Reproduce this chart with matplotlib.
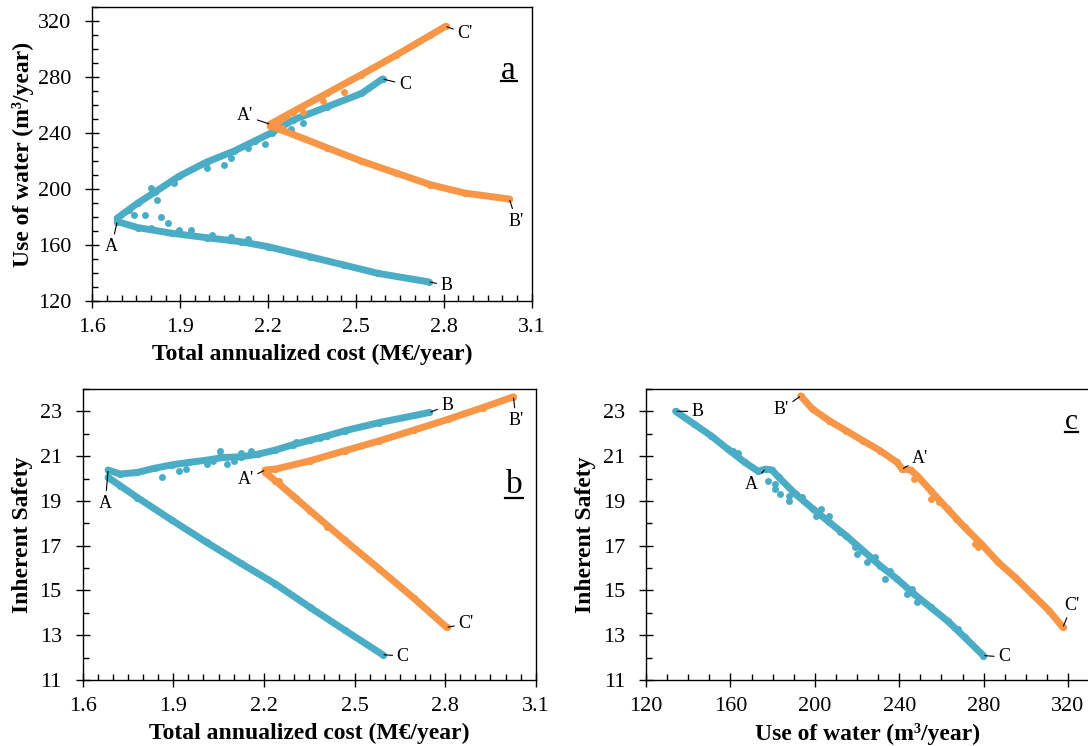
import matplotlib
matplotlib.use("Agg")
import matplotlib.pyplot as plt
from matplotlib.ticker import MultipleLocator

plt.rcParams["font.family"] = ["Liberation Serif", "DejaVu Serif"]

BLUE = "#4bacc6"
ORANGE = "#f79646"

# ---- panel a: total annualized cost vs use of water ----
a_blue_up_cost = [1.685, 1.755, 1.814, 1.896, 1.990, 2.084, 2.154, 2.213, 2.284, 2.401, 2.519, 2.591]
a_blue_up_water = [179.2, 190.0, 197.9, 209.2, 219.3, 227.2, 234.4, 240.4, 249.3, 258.8, 268.4, 278.8]
a_blue_low_cost = [1.685, 1.755, 1.873, 1.990, 2.107, 2.201, 2.342, 2.460, 2.577, 2.748]
a_blue_low_water = [176.8, 172.5, 168.4, 165.3, 162.4, 158.8, 151.7, 145.7, 139.7, 133.7]
a_blue_pts_cost = [1.726, 1.743, 1.779, 1.820, 1.802, 1.835, 1.858, 1.878, 1.990, 2.049, 2.072, 2.131,
                   2.190, 2.278, 2.319, 1.896, 1.937, 2.008, 2.072, 2.131, 1.802]
a_blue_pts_water = [185.2, 181.6, 181.6, 192.4, 200.8, 180.4, 175.6, 204.4, 215.2, 217.6, 222.4, 229.6,
                    232.0, 242.8, 247.1, 170.8, 170.8, 167.2, 166.0, 164.4, 172.0]
a_or_up_cost = [2.207, 2.284, 2.401, 2.519, 2.636, 2.754, 2.806]
a_or_up_water = [246.4, 255.3, 268.5, 281.9, 295.6, 310.0, 316.4]
a_or_low_cost = [2.207, 2.284, 2.401, 2.519, 2.636, 2.754, 2.871, 3.024]
a_or_low_water = [245.2, 239.2, 229.6, 220.0, 211.6, 203.2, 197.2, 192.9]
a_or_pts_cost = [2.248, 2.319, 2.460, 2.389, 2.260, 2.225, 2.248, 2.237]
a_or_pts_water = [251.2, 254.8, 269.2, 263.2, 252.4, 245.2, 244.0, 248.8]

# ---- panel b: total annualized cost vs inherent safety ----
b_blue_up_cost = [1.684, 1.724, 1.781, 1.838, 1.895, 1.952, 2.010, 2.067, 2.124, 2.181, 2.238, 2.296,
                  2.353, 2.410, 2.467, 2.582, 2.748]
b_blue_up_safety = [20.38, 20.20, 20.27, 20.46, 20.61, 20.72, 20.82, 20.94, 20.97, 21.09, 21.27, 21.51,
                    21.71, 21.91, 22.13, 22.50, 22.95]
b_blue_low_cost = [1.684, 1.724, 1.781, 1.895, 2.010, 2.124, 2.238, 2.353, 2.467, 2.593]
b_blue_low_safety = [20.05, 19.68, 19.15, 18.14, 17.15, 16.21, 15.29, 14.24, 13.23, 12.13]
b_blue_pts_cost = [1.861, 1.918, 1.941, 2.010, 2.032, 2.055, 2.078, 2.055, 2.101, 2.124, 2.158, 2.307, 2.387]
b_blue_pts_safety = [20.05, 20.35, 20.42, 20.64, 20.79, 21.01, 20.64, 21.21, 20.79, 21.16, 21.24, 21.61, 21.83]
b_or_up_cost = [2.204, 2.238, 2.353, 2.467, 2.582, 2.696, 2.811, 2.925, 3.026]
b_or_up_safety = [20.38, 20.42, 20.79, 21.24, 21.68, 22.16, 22.65, 23.17, 23.65]
b_or_low_cost = [2.204, 2.238, 2.296, 2.353, 2.467, 2.582, 2.696, 2.805]
b_or_low_safety = [20.27, 19.90, 19.23, 18.56, 17.25, 15.96, 14.66, 13.35]
b_or_pts_cost = [2.250, 2.307, 2.410]
b_or_pts_safety = [19.90, 19.15, 17.82]

# ---- panel c: use of water vs inherent safety ----
c_blue_water = [134.0, 142.8, 150.8, 158.8, 166.8, 173.2, 176.5, 179.7, 182.9, 190.9, 198.9, 206.9,
                214.9, 223.0, 231.0, 239.0, 247.0, 255.0, 263.1, 271.1, 279.9]
c_blue_safety = [23.00, 22.43, 21.91, 21.31, 20.72, 20.32, 20.42, 20.38, 20.05, 19.30, 18.66, 18.04,
                 17.44, 16.77, 16.10, 15.51, 14.84, 14.24, 13.62, 12.90, 12.09]
c_blue_pts_water = [181.3, 183.7, 187.7, 187.7, 194.1, 200.5, 202.9, 206.9, 211.7, 219.0, 219.8, 224.6,
                    228.6, 233.4, 235.8, 243.8, 246.2, 248.6, 267.9, 178.0, 181.3, 161.0, 163.5]
c_blue_pts_safety = [19.53, 19.30, 19.23, 18.98, 19.16, 18.34, 18.63, 18.34, 17.59, 16.92, 16.62, 16.25,
                     16.48, 15.51, 15.88, 14.84, 15.06, 14.47, 13.28, 19.90, 19.75, 21.25, 21.15]
c_or_water = [193.3, 198.9, 206.9, 214.9, 223.0, 231.0, 239.0, 241.4, 245.4, 248.6, 255.0, 263.0,
              271.0, 279.0, 287.0, 295.0, 303.0, 311.0, 317.6]
c_or_safety = [23.69, 23.10, 22.58, 22.13, 21.68, 21.24, 20.72, 20.42, 20.38, 20.12, 19.45, 18.63,
               17.82, 17.07, 16.25, 15.58, 14.84, 14.10, 13.35]
c_or_pts_water = [247.0, 255.0, 259.0, 267.0, 275.9, 277.5]
c_or_pts_safety = [19.96, 19.08, 18.93, 18.19, 17.07, 16.92]

cost_ticks = [1.6, 1.9, 2.2, 2.5, 2.8, 3.1]
water_ticks = [120, 160, 200, 240, 280, 320]
safety_ticks = [11, 13, 15, 17, 19, 21, 23]


def front(ax, x, y, color):
    ax.plot(x, y, color=color, lw=5, marker="o", ms=5.2, mec="none", solid_capstyle="round",
            solid_joinstyle="round", zorder=3)


def dots(ax, x, y, color):
    ax.plot(x, y, "o", color=color, ms=5, mec="none", zorder=3)


def label(ax, text, xy, offset):
    ax.annotate(text, xy=xy, xytext=offset, textcoords="offset points", ha="center", va="center",
                fontsize=13, zorder=5,
                arrowprops=dict(arrowstyle="-", color="black", lw=0.8, shrinkA=1, shrinkB=1))


def panel_letter(ax, text, x, y, x0, x1, yline, size):
    ax.text(x, y, text, transform=ax.transAxes, ha="center", va="center", fontsize=size)
    ax.plot([x0, x1], [yline, yline], transform=ax.transAxes, color="black", lw=1.6, clip_on=False)


def style(ax, xlim, xticks, xminor, ylim, yticks, yminor):
    ax.set_xlim(*xlim)
    ax.set_ylim(*ylim)
    ax.set_xticks(xticks)
    ax.set_yticks(yticks)
    ax.xaxis.set_minor_locator(MultipleLocator(xminor))
    ax.yaxis.set_minor_locator(MultipleLocator(yminor))
    ax.tick_params(which="major", direction="inout", length=10, width=1, labelsize=16, pad=7)
    ax.tick_params(axis="y", which="major", pad=10)
    ax.tick_params(which="minor", direction="in", length=4.5, width=1)
    for s in ax.spines.values():
        s.set_linewidth(1.0)
        s.set_color("black")


fig = plt.figure(figsize=(10.88, 7.46), dpi=100)

# panel a
ax1 = fig.add_axes([0.0848, 0.5965, 0.4039, 0.3937])
front(ax1, a_blue_up_cost, a_blue_up_water, BLUE)
front(ax1, a_blue_low_cost, a_blue_low_water, BLUE)
dots(ax1, a_blue_pts_cost, a_blue_pts_water, BLUE)
front(ax1, a_or_up_cost, a_or_up_water, ORANGE)
front(ax1, a_or_low_cost, a_or_low_water, ORANGE)
dots(ax1, a_or_pts_cost, a_or_pts_water, ORANGE)
style(ax1, (1.6, 3.1), cost_ticks, 0.05, (120, 330), water_ticks, 10)
ax1.set_xlabel("Total annualized cost (M€/year)", fontsize=17, fontweight="bold", labelpad=5)
ax1.set_ylabel("Use of water (m³/year)", fontsize=17, fontweight="bold", labelpad=3)
label(ax1, "C'", (a_or_up_cost[-1], a_or_up_water[-1]), (14, -5))
label(ax1, "C", (a_blue_up_cost[-1], a_blue_up_water[-1]), (16, -4))
label(ax1, "A'", (a_or_up_cost[0], a_or_up_water[0]), (-18, 6))
label(ax1, "B'", (a_or_low_cost[-1], a_or_low_water[-1]), (5, -16))
label(ax1, "A", (a_blue_low_cost[0], a_blue_low_water[0]), (-4, -18))
label(ax1, "B", (a_blue_low_cost[-1], a_blue_low_water[-1]), (13, -2.5))
panel_letter(ax1, "a", 0.9475, 0.785, 0.9295, 0.967, 0.75, 24)

# panel b
ax2 = fig.add_axes([0.0760, 0.0885, 0.4164, 0.3901])
front(ax2, b_blue_up_cost, b_blue_up_safety, BLUE)
front(ax2, b_blue_low_cost, b_blue_low_safety, BLUE)
dots(ax2, b_blue_pts_cost, b_blue_pts_safety, BLUE)
front(ax2, b_or_up_cost, b_or_up_safety, ORANGE)
front(ax2, b_or_low_cost, b_or_low_safety, ORANGE)
dots(ax2, b_or_pts_cost, b_or_pts_safety, ORANGE)
style(ax2, (1.6, 3.1), cost_ticks, 0.05, (11, 24), safety_ticks, 1)
ax2.set_xlabel("Total annualized cost (M€/year)", fontsize=17, fontweight="bold", labelpad=5)
ax2.set_ylabel("Inherent Safety", fontsize=17, fontweight="bold", labelpad=5)
label(ax2, "B", (b_blue_up_cost[-1], b_blue_up_safety[-1]), (13, 5))
label(ax2, "B'", (b_or_up_cost[-1], b_or_up_safety[-1]), (2, -17))
label(ax2, "A", (b_blue_up_cost[0], b_blue_up_safety[0]), (-2, -24))
label(ax2, "A'", (b_or_up_cost[0], b_or_up_safety[0]), (-14, -7))
label(ax2, "C'", (b_or_low_cost[-1], b_or_low_safety[-1]), (14, 2.5))
label(ax2, "C", (b_blue_low_cost[-1], b_blue_low_safety[-1]), (14.5, -1))
panel_letter(ax2, "b", 0.952, 0.672, 0.933, 0.971, 0.625, 24)

# panel c
ax3 = fig.add_axes([0.5938, 0.0885, 0.4072, 0.3901])
front(ax3, c_blue_water, c_blue_safety, BLUE)
dots(ax3, c_blue_pts_water, c_blue_pts_safety, BLUE)
front(ax3, c_or_water, c_or_safety, ORANGE)
dots(ax3, c_or_pts_water, c_or_pts_safety, ORANGE)
style(ax3, (120, 330), water_ticks, 10, (11, 24), safety_ticks, 1)
ax3.set_xlabel("Use of water (m³/year)", fontsize=17, fontweight="bold", labelpad=5)
ax3.set_ylabel("Inherent Safety", fontsize=17, fontweight="bold", labelpad=5)
label(ax3, "B", (c_blue_water[0], c_blue_safety[0]), (16, 0))
label(ax3, "B'", (c_or_water[0], c_or_safety[0]), (-14, -10))
label(ax3, "A'", (c_or_water[7], c_or_safety[7]), (13, 7.5))
label(ax3, "A", (c_blue_water[6], c_blue_safety[6]), (-10, -11))
label(ax3, "C'", (c_or_water[-1], c_or_safety[-1]), (6.5, 16))
label(ax3, "C", (c_blue_water[-1], c_blue_safety[-1]), (15, -1))
panel_letter(ax3, "c", 0.96, 0.888, 0.945, 0.975, 0.851, 21)

fig.savefig("out.png", dpi=100)
